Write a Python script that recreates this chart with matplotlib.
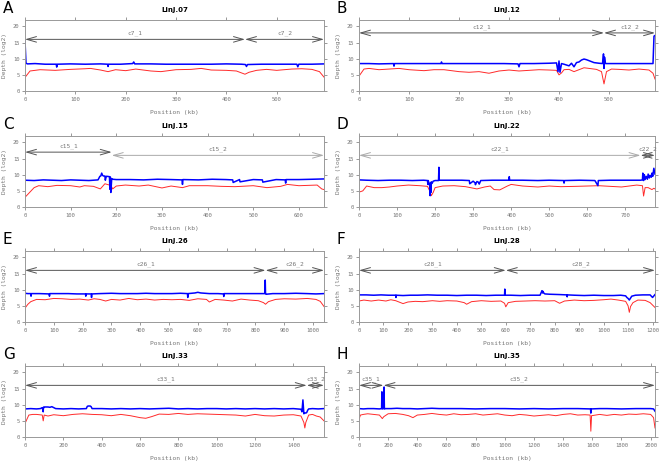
import matplotlib
matplotlib.use('Agg')
import matplotlib.pyplot as plt

# ---- panel A: LinJ.07 ----
a_blue_x = [0, 2, 5, 20, 40, 62, 63, 64, 90, 120, 150, 164, 165, 166, 190, 214, 216, 218, 250, 280, 310, 340,
            370, 400, 430, 438, 440, 442, 470, 500, 540, 542, 544, 570, 594]
a_blue_y = [15.5, 8.6, 8.4, 8.5, 8.3, 8.3, 7.4, 8.3, 8.4, 8.3, 8.4, 8.3, 7.6, 8.3, 8.3, 8.5, 9.0, 8.4, 8.4, 8.3, 8.3,
            8.3, 8.3, 8.4, 8.3, 8.2, 7.6, 8.2, 8.3, 8.3, 8.3, 7.5, 8.3, 8.3, 8.4]
a_red_x = [0, 10, 30, 60, 90, 120, 130, 150, 165, 180, 200, 220, 250, 270, 300, 330, 350, 370, 400, 420, 437, 445,
           460, 480, 500, 530, 550, 570, 585, 594]
a_red_y = [4.2, 6.2, 6.6, 6.4, 6.7, 6.9, 7.0, 6.5, 6.0, 6.6, 6.3, 6.8, 6.2, 6.0, 6.6, 6.7, 7.0, 6.5, 6.4, 6.2, 5.2, 5.8,
           6.4, 6.7, 6.4, 6.8, 6.9, 6.7, 6.0, 4.3]

# ---- panel B: LinJ.12 ----
b_blue_x = [0, 20, 40, 69, 70, 71, 100, 130, 164, 165, 166, 200, 230, 260, 290, 318, 320, 322, 350, 380, 395, 398,
            400, 402, 405, 410, 420, 425, 430, 435, 440, 445, 450, 455, 460, 470, 480, 487, 489, 490, 491, 493, 500,
            530, 560, 588, 590, 592]
b_blue_y = [8.5, 8.5, 8.4, 8.5, 7.7, 8.5, 8.5, 8.5, 8.5, 9.0, 8.5, 8.5, 8.5, 8.5, 8.5, 8.4, 7.5, 8.5, 8.5, 8.6, 8.7,
            6.0, 9.3, 5.8, 8.5, 8.3, 7.8, 8.6, 7.5, 8.8, 9.0, 9.6, 9.9, 9.7, 9.4, 8.8, 8.6, 8.5, 11.5, 7.0, 10.5, 8.5,
            8.5, 8.5, 8.5, 8.5, 17.0, 17.2]
b_red_x = [0, 10, 20, 40, 60, 80, 100, 130, 150, 170, 200, 220, 240, 260, 280, 300, 320, 340, 360, 380, 395, 400,
           405, 410, 420, 430, 440, 450, 460, 475, 485, 490, 495, 505, 520, 540, 560, 580, 588, 592]
b_red_y = [4.6, 6.8, 7.0, 6.6, 6.8, 7.0, 6.6, 6.3, 6.6, 6.6, 6.0, 5.8, 6.0, 5.5, 6.2, 6.5, 6.2, 6.4, 6.6, 6.5, 6.4,
           5.0, 5.6, 6.6, 6.7, 6.0, 6.6, 7.2, 7.0, 6.7, 6.0, 2.2, 6.0, 6.8, 6.7, 6.5, 6.8, 6.5, 5.5, 3.7]

# ---- panel C: LinJ.15 ----
c_blue_x = [0, 20, 40, 60, 80, 100, 120, 140, 160, 164, 166, 168, 170, 172, 175, 176, 178, 180, 185, 186, 187, 188,
            190, 192, 200, 230, 260, 290, 320, 344, 345, 346, 380, 410, 440, 455, 456, 470, 471, 500, 520, 521, 550,
            570, 571, 572, 600, 630, 655]
c_blue_y = [8.3, 8.2, 8.4, 8.3, 8.2, 8.4, 8.3, 8.2, 8.4, 9.5, 9.6, 10.5, 9.8, 9.6, 9.6, 8.3, 9.5, 9.5, 9.4, 5.5, 9.3,
            4.5, 8.8, 8.6, 8.5, 8.5, 8.4, 8.6, 8.5, 8.4, 7.0, 8.5, 8.4, 8.6, 8.5, 8.4, 7.6, 8.5, 7.8, 8.5, 8.4, 7.7,
            8.5, 8.4, 7.4, 8.5, 8.5, 8.6, 8.7]
c_red_x = [0, 10, 20, 30, 50, 70, 100, 120, 130, 150, 165, 175, 185, 190, 192, 200, 220, 250, 270, 300, 320, 345,
           360, 400, 430, 460, 500, 530, 560, 575, 600, 640, 650, 655]
c_red_y = [3.0, 4.5, 6.0, 6.6, 6.3, 6.7, 6.6, 6.2, 6.6, 6.4, 5.6, 7.2, 6.8, 6.2, 5.6, 6.5, 6.8, 6.5, 6.8, 5.9, 6.5,
           6.0, 6.6, 6.6, 6.4, 6.3, 6.6, 6.0, 6.4, 7.0, 6.6, 6.8, 5.6, 5.4]

# ---- panel D: LinJ.22 ----
d_blue_x = [0, 20, 50, 80, 110, 140, 170, 180, 181, 182, 186, 187, 188, 189, 190, 192, 195, 200, 209, 210, 211, 240,
            270, 290, 291, 300, 305, 306, 310, 315, 316, 320, 350, 394, 395, 396, 430, 470, 500, 538, 539, 540, 580,
            620, 628, 629, 630, 660, 700, 740, 745, 746, 748, 750, 752, 755, 758, 760, 763, 765, 768, 770, 772, 775,
            778]
d_blue_y = [8.4, 8.3, 8.2, 8.3, 8.3, 8.2, 8.3, 8.2, 7.0, 8.2, 6.5, 3.5, 7.5, 4.5, 7.8, 7.3, 8.0, 8.2, 8.2, 12.3, 8.3,
            8.3, 8.3, 8.2, 7.2, 8.0, 7.5, 6.9, 7.9, 7.6, 7.1, 8.2, 8.3, 8.3, 9.4, 8.3, 8.3, 8.2, 8.3, 8.2, 7.4, 8.2,
            8.3, 8.2, 6.6, 8.2, 8.2, 8.3, 8.3, 8.3, 8.4, 10.5, 8.2, 10.0, 8.5, 9.5, 8.6, 10.2, 9.0, 9.8, 9.2, 10.5,
            9.5, 12.0, 10.2]
d_red_x = [0, 10, 20, 40, 60, 80, 100, 130, 160, 180, 185, 190, 195, 200, 220, 250, 280, 310, 330, 345, 355, 370,
           390, 400, 430, 470, 500, 530, 570, 600, 630, 660, 690, 730, 745, 748, 752, 760, 770, 775, 778]
d_red_y = [4.6, 5.0, 6.5, 6.0, 6.0, 6.2, 6.5, 6.8, 6.6, 6.4, 5.2, 3.5, 4.5, 6.0, 6.5, 6.6, 6.3, 5.6, 6.2, 6.5, 5.4,
           5.3, 6.5, 7.0, 6.5, 6.2, 6.5, 6.3, 6.4, 6.5, 6.6, 6.4, 6.2, 6.8, 6.6, 3.4, 6.0, 6.0, 5.4, 5.8, 5.6]

# ---- panel E: LinJ.26 ----
e_blue_x = [0, 10, 20, 21, 22, 50, 84, 85, 86, 120, 150, 180, 210, 211, 212, 230, 231, 232, 260, 300, 330, 360, 390,
            420, 450, 480, 510, 540, 564, 565, 566, 590, 600, 610, 640, 670, 689, 690, 691, 720, 760, 800, 833, 834,
            835, 836, 837, 860, 900, 940, 980, 1010, 1038]
e_blue_y = [8.9, 8.8, 8.8, 8.0, 8.8, 8.8, 8.7, 8.0, 8.8, 8.8, 8.8, 8.7, 8.7, 8.0, 8.7, 8.7, 7.6, 8.7, 8.8, 8.9, 8.8,
            8.8, 8.8, 8.9, 8.8, 8.8, 8.8, 8.9, 8.8, 7.6, 8.8, 9.0, 9.2, 9.0, 8.8, 8.8, 8.7, 7.9, 8.8, 8.8, 8.8, 8.8,
            8.8, 13.0, 8.8, 8.7, 8.6, 8.8, 8.8, 8.9, 8.8, 8.7, 8.8]
e_red_x = [0, 10, 20, 40, 70, 100, 130, 160, 190, 220, 240, 260, 280, 300, 330, 360, 390, 420, 450, 480, 510, 540,
           570, 600, 630, 640, 660, 690, 720, 750, 780, 810, 828, 835, 845, 870, 900, 940, 980, 1010, 1025, 1038]
e_red_y = [4.3, 5.5, 6.3, 7.0, 6.9, 7.3, 7.2, 7.0, 7.1, 6.8, 7.2, 7.0, 6.5, 7.0, 6.8, 7.3, 6.9, 7.1, 6.8, 7.0, 6.9,
           7.0, 6.7, 7.2, 7.0, 6.2, 7.0, 6.8, 6.5, 7.1, 6.8, 6.6, 6.0, 5.5, 6.3, 7.0, 7.2, 7.1, 7.3, 7.0, 6.4, 4.8]

# ---- panel F: LinJ.28 ----
f_blue_x = [0, 30, 60, 90, 120, 150, 151, 152, 180, 210, 240, 280, 320, 360, 400, 440, 480, 520, 560, 595, 596, 597,
            620, 660, 700, 740, 748, 750, 752, 755, 760, 780, 820, 850, 851, 852, 880, 920, 960, 1000, 1040, 1070,
            1090, 1095, 1100, 1105, 1110, 1115, 1130, 1160, 1190, 1200, 1210]
f_blue_y = [8.4, 8.4, 8.3, 8.4, 8.3, 8.3, 7.6, 8.3, 8.2, 8.3, 8.3, 8.4, 8.3, 8.3, 8.2, 8.3, 8.3, 8.2, 8.3, 8.3, 10.2,
            8.3, 8.3, 8.2, 8.3, 8.3, 9.7, 9.0, 9.5, 9.0, 8.7, 8.6, 8.5, 8.4, 7.8, 8.4, 8.3, 8.2, 8.3, 8.2, 8.2, 8.3,
            8.1, 7.6, 7.3, 6.8, 7.4, 8.0, 8.3, 8.4, 8.4, 7.6, 8.5]
f_red_x = [0, 20, 50, 80, 110, 130, 150, 170, 180, 200, 230, 260, 300, 330, 360, 400, 430, 440, 460, 500, 540, 580,
           595, 600, 610, 640, 680, 720, 760, 800, 820, 840, 880, 920, 960, 1000, 1030, 1060, 1090, 1100, 1105, 1110,
           1120, 1140, 1170, 1190, 1210]
f_red_y = [6.5, 6.8, 6.5, 6.8, 6.5, 6.9, 6.6, 6.0, 5.7, 6.2, 6.4, 6.3, 6.6, 6.4, 6.6, 6.5, 6.0, 5.5, 6.3, 6.6, 6.4,
           6.5, 5.8, 4.7, 6.0, 6.4, 6.5, 6.6, 6.5, 6.6, 5.8, 6.5, 6.8, 6.6, 6.7, 6.9, 7.1, 6.8, 6.4, 5.0, 3.0, 4.8,
           6.0, 6.8, 6.7, 6.0, 4.5]

# ---- panel G: LinJ.33 ----
g_blue_x = [0, 30, 60, 80, 90, 95, 96, 97, 100, 120, 130, 140, 150, 160, 200, 240, 280, 320, 325, 330, 340, 345, 350,
            400, 450, 500, 550, 600, 650, 700, 750, 800, 850, 900, 950, 1000, 1050, 1100, 1150, 1200, 1250, 1300,
            1350, 1400, 1440, 1445, 1450, 1455, 1460, 1465, 1470, 1475, 1480, 1500, 1530, 1560]
g_blue_y = [8.7, 8.8, 8.7, 8.8, 9.1, 7.8, 9.2, 9.0, 9.3, 9.3, 9.2, 9.4, 9.1, 8.8, 8.7, 8.8, 8.7, 8.8, 9.5, 9.6, 9.6,
            9.4, 8.8, 8.8, 8.7, 8.8, 8.7, 8.8, 8.7, 8.8, 8.9, 8.7, 8.8, 8.7, 8.8, 8.8, 8.7, 8.8, 8.7, 8.8, 8.7, 8.8,
            8.7, 8.8, 8.6, 7.8, 11.5, 7.2, 7.5, 7.4, 7.6, 8.3, 8.7, 8.8, 8.7, 8.8]
g_red_x = [0, 10, 20, 40, 60, 90, 95, 100, 120, 150, 200, 250, 300, 350, 400, 450, 500, 550, 600, 630, 660, 700, 750,
           800, 850, 900, 950, 1000, 1050, 1100, 1150, 1200, 1250, 1300, 1350, 1400, 1440, 1455, 1460, 1465, 1480,
           1500, 1520, 1540, 1560]
g_red_y = [4.2, 5.5, 6.8, 7.0, 7.0, 6.8, 5.0, 6.8, 6.5, 6.9, 6.6, 7.0, 7.2, 7.0, 6.9, 6.6, 7.0, 6.6, 6.0, 5.8, 6.3,
           7.1, 7.0, 7.3, 7.0, 7.2, 7.1, 7.0, 6.9, 6.8, 6.5, 7.0, 6.6, 6.5, 6.8, 6.9, 6.5, 4.5, 2.8, 4.5, 6.8, 7.0,
           6.5, 6.2, 5.0]

# ---- panel H: LinJ.35 ----
h_blue_x = [0, 30, 60, 100, 140, 155, 157, 159, 161, 165, 170, 172, 174, 176, 180, 220, 260, 300, 350, 400, 450, 500,
            550, 600, 700, 800, 900, 1000, 1100, 1200, 1300, 1400, 1500, 1588, 1590, 1592, 1650, 1700, 1800, 1900,
            2000, 2020, 2030]
h_blue_y = [8.8, 8.7, 8.8, 8.8, 8.7, 8.8, 14.0, 8.8, 8.7, 8.8, 8.8, 15.5, 8.8, 8.7, 8.8, 8.8, 8.9, 8.8, 8.8, 8.7,
            8.8, 8.9, 8.8, 8.8, 8.8, 8.7, 8.8, 8.8, 8.7, 8.8, 8.7, 8.8, 8.8, 8.7, 7.4, 8.7, 8.8, 8.8, 8.7, 8.8, 8.8,
            8.7, 8.0]
h_red_x = [0, 10, 30, 60, 100, 140, 160, 170, 200, 250, 300, 340, 370, 400, 450, 500, 550, 600, 650, 700, 750, 800,
           850, 900, 950, 1000, 1050, 1100, 1150, 1200, 1250, 1300, 1350, 1400, 1450, 1500, 1550, 1585, 1590, 1595,
           1650, 1700, 1750, 1800, 1850, 1900, 1950, 2000, 2020, 2030]
h_red_y = [5.5, 6.8, 7.0, 7.2, 7.0, 6.8, 5.7, 6.3, 7.2, 7.3, 7.0, 6.6, 6.0, 6.8, 7.0, 7.3, 7.0, 6.8, 7.2, 6.9, 7.0,
           7.2, 6.8, 7.0, 7.2, 6.8, 6.6, 7.0, 6.8, 6.5, 6.7, 6.9, 6.6, 7.0, 7.2, 6.8, 6.9, 6.8, 1.8, 6.6, 7.0, 6.7,
           7.0, 6.8, 7.1, 7.0, 7.2, 7.0, 6.0, 2.8]

# contigs: (name, start, end, y level)
a_contigs = [('c7_1', 0, 437, 16), ('c7_2', 437, 594, 16)]
b_contigs = [('c12_1', 0, 490, 18), ('c12_2', 490, 592, 18)]
c_contigs = [('c15_1', 0, 190, 17), ('c15_2', 190, 655, 16)]
d_contigs = [('c22_1', 0, 740, 16), ('c22_2', 740, 778, 16)]
e_contigs = [('c26_1', 0, 835, 16), ('c26_2', 835, 1038, 16)]
f_contigs = [('c28_1', 0, 600, 16), ('c28_2', 600, 1210, 16)]
g_contigs = [('c33_1', 0, 1470, 16), ('c33_2', 1470, 1560, 16)]
h_contigs = [('c35_1', 0, 168, 16), ('c35_2', 168, 2030, 16)]

panels = [
    ('A', 'LinJ.07', 594, 100, a_blue_x, a_blue_y, a_red_x, a_red_y, a_contigs),
    ('B', 'LinJ.12', 592, 100, b_blue_x, b_blue_y, b_red_x, b_red_y, b_contigs),
    ('C', 'LinJ.15', 655, 100, c_blue_x, c_blue_y, c_red_x, c_red_y, c_contigs),
    ('D', 'LinJ.22', 778, 100, d_blue_x, d_blue_y, d_red_x, d_red_y, d_contigs),
    ('E', 'LinJ.26', 1038, 100, e_blue_x, e_blue_y, e_red_x, e_red_y, e_contigs),
    ('F', 'LinJ.28', 1210, 100, f_blue_x, f_blue_y, f_red_x, f_red_y, f_contigs),
    ('G', 'LinJ.33', 1560, 200, g_blue_x, g_blue_y, g_red_x, g_red_y, g_contigs),
    ('H', 'LinJ.35', 2030, 200, h_blue_x, h_blue_y, h_red_x, h_red_y, h_contigs),
]

W, H = 660, 462
fig = plt.figure(figsize=(6.6, 4.62), dpi=100)
grey = '#777777'
mono = 'DejaVu Sans Mono'

col_left = [25, 359]
col_width = [299, 296]
row_top = [20, 136, 251, 366]
ax_h = 71

for i, (letter, title, xmax, step, bx, by, rx, ry, contigs) in enumerate(panels):
    r, c = i // 2, i % 2
    ax = fig.add_axes([col_left[c] / W, 1 - (row_top[r] + ax_h) / H, col_width[c] / W, ax_h / H])
    ax.plot(rx, ry, color='#ff2a2a', lw=0.7)
    ax.plot(bx, by, color='#0000ff', lw=1.1)
    for name, s, e, yl in contigs:
        col = '#555555' if not (letter in 'CD' and name in ('c15_2', 'c22_1')) else '#aaaaaa'
        ax.annotate('', xy=(e, yl), xytext=(s, yl),
                    arrowprops=dict(arrowstyle='<->,head_length=0.7,head_width=0.2', color=col, lw=0.7,
                                    shrinkA=0, shrinkB=0))
        ax.text((s + e) / 2, yl + 1.9, name, ha='center', va='center', fontsize=4.5,
                family=mono, color=grey)
    ax.set_xlim(0, xmax)
    ax.set_ylim(0, 22)
    ax.set_yticks([0, 5, 10, 15, 20])
    ax.set_xticks(range(0, xmax + 1, step))
    ax.tick_params(direction='out', length=2.5, width=0.6, color='#888888', labelsize=4, labelcolor=grey,
                   pad=1.5, top=True, right=True)
    for lab in ax.get_xticklabels() + ax.get_yticklabels():
        lab.set_family(mono)
    for sp in ax.spines.values():
        sp.set_color('#999999')
        sp.set_linewidth(0.7)
    ax.set_xlabel('Position (kb)', fontsize=4.5, family=mono, color=grey, labelpad=6)
    ax.set_ylabel('Depth (log2)', fontsize=4.5, family=mono, color=grey, labelpad=4)
    ax.set_title(title, fontsize=5, fontweight='bold', pad=6)
    fig.text((col_left[c] - 22) / W, 1 - (row_top[r] - 19) / H, letter, fontsize=11, va='top', ha='left')

fig.savefig('out.png', dpi=100)
